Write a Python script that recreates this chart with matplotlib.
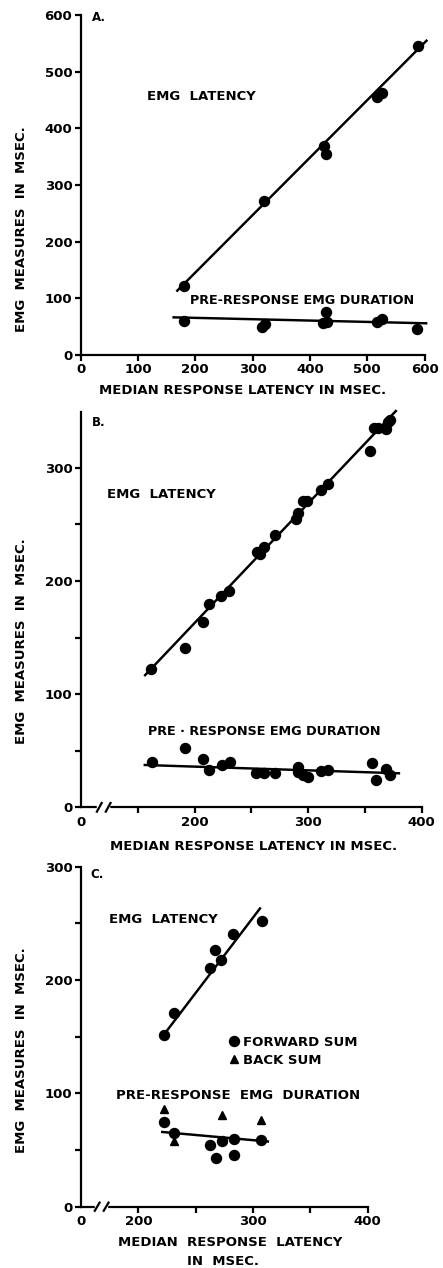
import matplotlib
matplotlib.use("Agg")
import matplotlib.pyplot as plt
import numpy as np
from matplotlib.lines import Line2D

plt.rcParams['font.family'] = ['DejaVu Sans']
plt.rcParams['font.weight'] = 'bold'

# ---------------- Panel A data ----------------
A_lat_x = [180, 320, 425, 428, 517, 526, 588]
A_lat_y = [122, 272, 368, 355, 455, 462, 545]
A_pre_x = [180, 316, 322, 428, 423, 430, 517, 526, 587]
A_pre_y = [60, 50, 55, 76, 57, 58, 59, 64, 46]
A_lat_fit = (1.014, -57.3)   # slope, intercept
A_lat_range = (167, 605)
A_pre_fit = (-0.0238, 70.3)
A_pre_range = (160, 605)

# ---------------- Panel B data ----------------
B_lat_x = [161.6, 191.2, 207.3, 212.3, 223.5, 229.9, 254.8, 257.2, 260.7, 270.4,
           289.4, 290.9, 295.3, 298.8, 311.1, 317.3, 354.5, 358.1, 361.9, 368.6,
           370.7, 372.1]
B_lat_y = [122, 140.5, 164, 180, 187, 191, 226, 224, 230, 240.6,
           255, 260, 271, 271, 280, 285.7, 315, 335, 335, 334,
           340, 342]
B_pre_x = [162.5, 191.2, 207.3, 212.3, 224, 230.8, 254.3, 260.7, 271, 290.9,
           291.5, 295.9, 300.3, 311.1, 317.9, 356, 359.8, 368.6, 372.1]
B_pre_y = [40, 52.7, 43, 33, 37.4, 40, 30, 30, 30, 36,
           31.5, 28.6, 27, 32, 33, 39.5, 24, 33.6, 28.6]
B_lat_fit = (1.057, -48.6)
B_lat_range = (155.7, 378)
B_pre_fit = (-0.0328, 42.5)
B_pre_range = (155.1, 381)

# ---------------- Panel C data ----------------
C_lat_x = [222.2, 230.9, 262.7, 267.0, 271.7, 282.5, 307.9]
C_lat_y = [151.5, 170.6, 211, 226.5, 218, 241, 252]
C_pre_fwd_x = [222.2, 231.5, 262.7, 267.3, 272.9, 283.4, 283.1, 307.3]
C_pre_fwd_y = [74.4, 64.7, 54.4, 42.6, 58, 59.4, 45.6, 58.8]
C_pre_back_x = [222.2, 230.9, 272.9, 306.7]
C_pre_back_y = [86, 58, 81, 76.5]
C_lat_fit = (1.329, -143.6)
C_lat_range = (219.8, 306.7)
C_pre_fit = (-0.0913, 86.1)
C_pre_range = (219.8, 314)

W, H = 443, 1268
fig = plt.figure(figsize=(W / 100, H / 100), dpi=100)


def px_axes(left, right, top, bottom):
    return fig.add_axes([left / W, 1 - bottom / H, (right - left) / W, (bottom - top) / H])


FS = 9.5
LW = 1.6
MS = 7.2


def style(ax):
    for s in ['top', 'right']:
        ax.spines[s].set_visible(False)
    for s in ['left', 'bottom']:
        ax.spines[s].set_linewidth(LW)
    ax.tick_params(which='both', direction='out', width=LW, labelsize=FS, pad=2)
    ax.tick_params(which='major', length=4)
    ax.tick_params(which='minor', length=4)
    for lab in ax.get_xticklabels() + ax.get_yticklabels():
        lab.set_fontweight('bold')


def fitline(ax, fit, rng):
    xs = np.array(rng)
    ax.plot(xs, fit[0] * xs + fit[1], color='black', lw=LW * 1.1, solid_capstyle='butt', clip_on=False)


def brk(ax, x0, x1, hfrac):
    tr = ax.get_xaxis_transform()
    ax.plot([x0 + (x1 - x0) * 0.15, x1 - (x1 - x0) * 0.15], [0, 0], color='white', lw=LW * 2,
            transform=tr, clip_on=False, zorder=5)
    dx = (x1 - x0) * 0.35
    for xa in (x0, x1 - dx):
        ax.plot([xa, xa + dx], [-hfrac, hfrac], color='black', lw=LW, transform=tr,
                clip_on=False, zorder=6)


# ================= Panel A =================
axA = px_axes(80.7, 424.5, 15, 355)
axA.set_xlim(0, 600)
axA.set_ylim(0, 600)
axA.set_xticks(np.arange(0, 601, 100))
axA.set_yticks(np.arange(0, 601, 100))
style(axA)
fitline(axA, A_lat_fit, A_lat_range)
fitline(axA, A_pre_fit, A_pre_range)
axA.plot(A_lat_x, A_lat_y, 'o', color='black', ms=MS, clip_on=False)
axA.plot(A_pre_x, A_pre_y, 'o', color='black', ms=MS, clip_on=False)
axA.text(19, 596, 'A.', fontsize=8.5, fontweight='bold', va='center', ha='left')
axA.text(116, 456, 'EMG  LATENCY', fontsize=FS, fontweight='bold', va='center', ha='left')
axA.text(191, 97, 'PRE-RESPONSE EMG DURATION', fontsize=9.2, fontweight='bold', va='center', ha='left')

# ================= Panel B =================
axB = px_axes(81, 421.7, 412.3, 807.3)
axB.set_xlim(100, 400)
axB.set_ylim(0, 349)
axB.set_xticks([100, 150, 200, 250, 300, 350, 400])
axB.set_xticklabels(['0', '', '200', '', '300', '', '400'])
axB.set_yticks([0, 100, 200, 300])
axB.set_yticks([50, 150, 250], minor=True)
style(axB)
axB.xaxis.get_major_ticks()[0].tick1line.set_visible(False)
fitline(axB, B_lat_fit, B_lat_range)
fitline(axB, B_pre_fit, B_pre_range)
axB.plot(B_lat_x, B_lat_y, 'o', color='black', ms=MS, clip_on=False)
axB.plot(B_pre_x, B_pre_y, 'o', color='black', ms=MS, clip_on=False)
brk(axB, 114, 126, 0.011)
axB.text(109.4, 339.7, 'B.', fontsize=8.5, fontweight='bold', va='center', ha='left')
axB.text(122.6, 276, 'EMG  LATENCY', fontsize=FS, fontweight='bold', va='center', ha='left')
axB.text(158.7, 66.8, 'PRE · RESPONSE EMG DURATION', fontsize=9.2, fontweight='bold', va='center', ha='left')

# ================= Panel C =================
axC = px_axes(81, 367.7, 866.7, 1206.7)
axC.set_xlim(150, 400)
axC.set_ylim(0, 300)
axC.set_xticks([150, 200, 250, 300, 350, 400])
axC.set_xticklabels(['0', '200', '', '300', '', '400'])
axC.set_yticks([0, 100, 200, 300])
axC.set_yticks([50, 150, 250], minor=True)
style(axC)
axC.xaxis.get_major_ticks()[0].tick1line.set_visible(False)
fitline(axC, C_lat_fit, C_lat_range)
fitline(axC, C_pre_fit, C_pre_range)
axC.plot(C_lat_x, C_lat_y, 'o', color='black', ms=MS, clip_on=False)
axC.plot(C_pre_fwd_x, C_pre_fwd_y, 'o', color='black', ms=MS, clip_on=False)
axC.plot(C_pre_back_x, C_pre_back_y, '^', color='black', ms=MS * 0.8, clip_on=False)
brk(axC, 162, 174, 0.012)
axC.text(157.8, 292.7, 'C.', fontsize=8.5, fontweight='bold', va='center', ha='left')
axC.text(174.7, 253, 'EMG  LATENCY', fontsize=FS, fontweight='bold', va='center', ha='left')
axC.text(180.5, 98.5, 'PRE-RESPONSE  EMG  DURATION', fontsize=FS, fontweight='bold', va='center', ha='left')
handles = [Line2D([], [], marker='o', ls='none', color='black', ms=MS),
           Line2D([], [], marker='^', ls='none', color='black', ms=MS * 0.8)]
axC.legend(handles, ['FORWARD SUM', 'BACK SUM'], loc='center left', bbox_to_anchor=(0.51, 0.457),
           frameon=False, fontsize=FS, handlelength=1.0, handletextpad=0.2, borderpad=0,
           borderaxespad=0, labelspacing=0.35, prop={'weight': 'bold', 'size': FS})

# ================= Axis labels =================
def ftext(x, y, s, rot=0):
    fig.text(x / W, 1 - y / H, s, fontsize=FS, fontweight='bold', ha='center', va='center', rotation=rot)

ftext(243, 390, 'MEDIAN RESPONSE LATENCY IN MSEC.')
ftext(22, 229, 'EMG  MEASURES  IN  MSEC.', rot=90)
ftext(254, 846.7, 'MEDIAN RESPONSE LATENCY IN MSEC.')
ftext(22, 641.5, 'EMG  MEASURES  IN  MSEC.', rot=90)
ftext(230, 1243, 'MEDIAN  RESPONSE  LATENCY')
ftext(223, 1261.5, 'IN  MSEC.')
ftext(22, 1050, 'EMG  MEASURES  IN  MSEC.', rot=90)

fig.savefig('out.png', dpi=100)
